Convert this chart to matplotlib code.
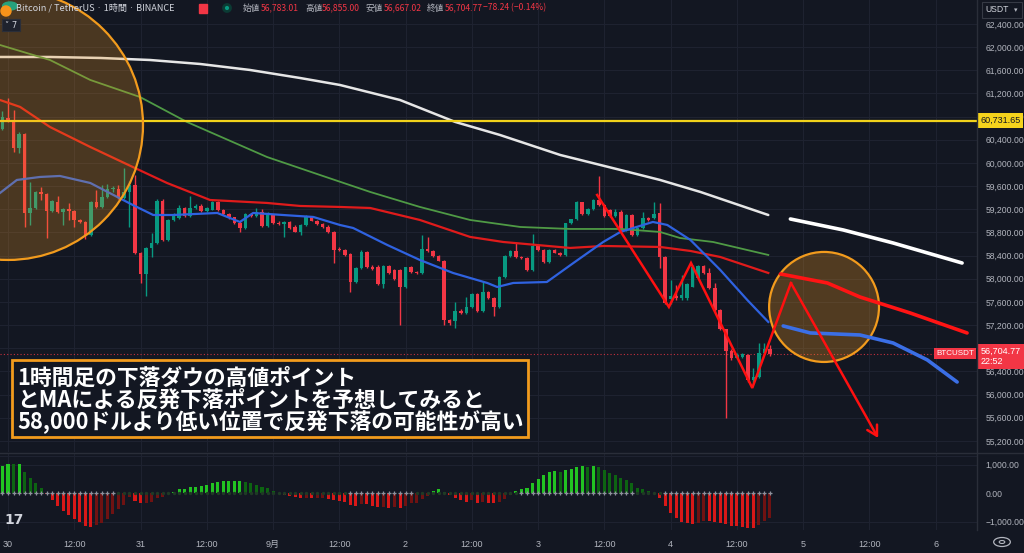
import numpy as np
import matplotlib
matplotlib.use("Agg")
import matplotlib.pyplot as plt
from matplotlib.patches import Ellipse, Rectangle, Circle

plt.rcParams['font.family'] = ['Noto Sans CJK JP', 'DejaVu Sans']
NARROW = ['Liberation Sans', 'Noto Sans CJK JP', 'DejaVu Sans']

# ---------------- data ----------------
# hours counted from 30 Aug 00:00 (1h candles)
hours = np.arange(-1, 139)
opens = [60581, 60771, 60742, 60253, 60500, 59130, 59217, 59493, 59464, 59176,
         59332, 59159, 59199, 59176, 59015, 58986, 58756, 59332, 59234, 59418,
         59545, 59545, 59389, 59504, 59614, 58439, 58077, 58526, 58612, 59349,
         58670, 59015, 59044, 59217, 59084, 59228, 59263, 59170, 59190, 59326,
         59188, 59119, 59061, 58960, 58871, 59119, 59084, 59159, 58911, 59101,
         58969, 58946, 58986, 58900, 58814, 58929, 59073, 59004, 58946, 58900,
         58802, 58520, 58497, 58428, 57950, 58181, 58469, 58210, 58210, 57910,
         58221, 58150, 58152, 57853, 58198, 58123, 58106, 58509, 58486, 58394,
         58313, 57288, 57277, 57450, 57403, 57507, 57732, 57450, 57766, 57663,
         57519, 58025, 58394, 58486, 58371, 58353, 58152, 58566, 58497, 58296,
         58497, 58451, 58411, 58958, 59027, 59321, 59113, 59205, 59361, 59275,
         59188, 59080, 59159, 58843, 59102, 58756, 58871, 59044, 59044, 59130,
         58370, 57645, 57703, 57663, 57662, 57864, 58019, 58221, 58106, 57835,
         57461, 57127, 56758, 56626, 56650, 56684, 56252, 56300, 56724, 56783.01]
highs = [60903, 61116, 60915, 60541, 60520, 59677, 59510, 59591, 59480, 59360,
         59430, 59230, 59303, 59190, 59030, 59000, 59350, 59533, 59620, 59637,
         59600, 59620, 59907, 59680, 59792, 58460, 58550, 58785, 59370, 59370,
         59030, 59130, 59274, 59240, 59430, 59290, 59290, 59240, 59340, 59350,
         59200, 59140, 59070, 58990, 59140, 59130, 59217, 59200, 59159, 59120,
         58990, 59000, 59000, 58920, 58940, 59101, 59090, 59020, 58960, 58920,
         58820, 58540, 58510, 58440, 58200, 58497, 58480, 58230, 58230, 58240,
         58240, 58170, 58170, 58210, 58220, 58140, 58756, 58728, 58500, 58410,
         58330, 57300, 57605, 57470, 57691, 57750, 57750, 57950, 57780, 57680,
         58040, 58410, 58500, 58641, 58390, 58370, 58774, 58580, 58510, 58510,
         58510, 58460, 58970, 59040, 59340, 59332, 59220, 59380, 59775, 59290,
         59200, 59200, 59180, 59120, 59120, 58890, 59159, 59060, 59321, 59303,
         58390, 57979, 57893, 58065, 57930, 58230, 58240, 58240, 58180, 57921,
         57480, 57140, 56780, 56720, 56720, 56700, 56460, 56885, 56885, 56855.00]
lows = [60570, 60713, 60195, 60167, 58900, 58929, 59200, 59360, 58698, 59150,
        59140, 58929, 59015, 58900, 58970, 58681, 58740, 59220, 59220, 59400,
        59500, 59370, 59370, 58900, 58420, 57933, 57703, 58382, 58600, 58650,
        58650, 59000, 59030, 59070, 59070, 59210, 59150, 59150, 59180, 59170,
        59100, 59040, 58940, 58814, 58860, 59070, 59070, 58900, 58900, 58950,
        58930, 58727, 58860, 58800, 58756, 58910, 58990, 58930, 58880, 58790,
        58267, 58480, 58400, 57778, 57930, 58170, 58180, 58150, 57890, 57835,
        58080, 57970, 57202, 57840, 58100, 58090, 58090, 58470, 58380, 58300,
        57202, 57200, 57144, 57390, 57390, 57490, 57430, 57430, 57650, 57357,
        57500, 58010, 58380, 58360, 58340, 58140, 58140, 58480, 58280, 58280,
        58440, 58400, 58400, 58940, 59010, 59100, 59100, 59190, 59260, 59070,
        59070, 59060, 58800, 58830, 58740, 58740, 58860, 59000, 59030, 58180,
        57560, 57560, 57640, 57640, 57640, 57850, 58010, 58090, 57820, 57440,
        57110, 55590, 56600, 56610, 56630, 56223, 56200, 56280, 56700, 56667.02]
closes = [60788, 60742, 60253, 60500, 59130, 59228, 59493, 59464, 59176, 59343,
          59159, 59199, 59176, 59015, 58986, 58756, 59332, 59234, 59418, 59545,
          59560, 59389, 59504, 59614, 58439, 58077, 58526, 58612, 59349, 58670,
          59015, 59084, 59217, 59084, 59228, 59263, 59170, 59217, 59326, 59188,
          59119, 59061, 58960, 58871, 59119, 59084, 59159, 58911, 59101, 58969,
          58946, 58986, 58871, 58814, 58929, 59073, 59004, 58946, 58900, 58802,
          58497, 58497, 58411, 57950, 58181, 58469, 58198, 58169, 57910, 58221,
          58094, 57991, 57853, 58198, 58123, 58106, 58509, 58486, 58394, 58313,
          57288, 57242, 57450, 57403, 57507, 57732, 57450, 57766, 57663, 57519,
          58025, 58394, 58486, 58371, 58353, 58152, 58566, 58497, 58296, 58497,
          58451, 58411, 58958, 59027, 59321, 59113, 59205, 59361, 59275, 59085,
          59085, 59159, 58814, 59102, 58756, 58871, 59044, 59020, 59113, 58370,
          57576, 57703, 57663, 57720, 57910, 58209, 58221, 58106, 57835, 57461,
          57127, 56758, 56626, 56684, 56701, 56252, 56300, 56724, 56783, 56704.77]

# momentum histogram (lower pane)
momentum = [948, 1018, 1010, 1018, 749, 515, 340, 164, -50, -246,
            -456, -632, -772, -913, -1006, -1158, -1182, -1123, -1041, -924,
            -737, -573, -421, -152, -269, -363, -339, -304, -164, -129,
            -47, 35, 129, 140, 199, 222, 246, 281, 339, 374,
            410, 421, 421, 433, 398, 339, 281, 199, 164, 59,
            -10, -59, -105, -152, -187, -180, -190, -185, -176, -211,
            -246, -293, -328, -421, -456, -386, -395, -456, -503, -480,
            -515, -503, -515, -456, -363, -339, -222, -105, 59, 140,
            23, -82, -164, -246, -304, -246, -339, -328, -363, -365,
            -328, -222, -58, 59, 140, 187, 363, 491, 632, 737,
            760, 737, 807, 842, 913, 936, 924, 948, 913, 807,
            714, 632, 538, 468, 339, 187, 129, 59, -5, -187,
            -445, -690, -889, -1006, -1065, -1088, -1041, -971, -975, -1006,
            -1065, -1088, -1158, -1160, -1182, -1217, -1240, -1123, -983, -866]
squeeze_ranges = [(-1, 19), (62, 73), (93, 113), (119, 138)]

# moving averages (hour, price)
ma200_h = [-1.45, 7.6, 16.7, 25.7, 34.8, 43.8, 52.9, 60.1, 71.0, 81.0, 89.1, 100.0, 110.9, 118.1, 125.4, 137.7]
ma200_p = [61830, 61830, 61813, 61778, 61709, 61606, 61467, 61347, 61087, 60708, 60483, 60138, 59879, 59706, 59499, 59101]
ma100_h = [-1.45, 7.6, 14.9, 23.9, 32.4, 46.9, 56.5, 65.6, 74.6, 83.7, 92.8, 101.8, 110.9, 118.1, 121.7, 127.7, 137.7]
ma100_p = [62037, 61778, 61433, 61139, 60708, 60103, 59792, 59499, 59240, 59015, 58894, 58860, 58860, 58808, 58704, 58635, 58411]
ma50_h = [-1.45, 2.2, 7.6, 14.9, 22.6, 28.8, 36.6, 46.9, 52.9, 60.1, 65.6, 74.6, 83.7, 89.7, 95.8, 101.8, 107.8, 118.1, 123.6, 129.0, 137.7]
ma50_p = [61087, 60967, 60621, 60276, 59930, 59654, 59360, 59309, 59257, 59240, 59222, 59015, 58722, 58635, 58583, 58532, 58566, 58549, 58480, 58376, 58100]
ma20_h = [-1.45, 1.6, 5.8, 9.4, 14.9, 19.8, 22.6, 26.3, 29.9, 37.9, 42.0, 44.4, 49.8, 55.3, 60.1, 62.5, 68.7, 74.6, 80.6, 86.8, 88.6, 91.5, 97.6, 102.4, 107.8, 110.9, 116.8, 119.4, 123.6, 129.0, 133.9, 137.7]
ma20_p = [59481, 59706, 59758, 59775, 59654, 59412, 59274, 59101, 59101, 59136, 58981, 59136, 59101, 59067, 58929, 58877, 58583, 58324, 58100, 57927, 57858, 57927, 57944, 58272, 58635, 58808, 58981, 58929, 58670, 58152, 57633, 57254]

# hand-drawn projections
proj_white_h = [141.7, 151.3, 160.3, 172.8]
proj_white_p = [59032, 58842, 58618, 58272]
proj_red_h = [139.9, 148.4, 154.3, 163.4, 173.7]
proj_red_p = [58083, 57927, 57685, 57409, 57064]
proj_blue_h = [140.4, 145.3, 154.3, 160.3, 166.5, 171.9]
proj_blue_p = [57185, 57064, 57029, 56891, 56598, 56217]
zigzag_h = [106.7, 119.7, 123.7, 134.8, 141.8]
zigzag_p = [59447, 57513, 58272, 56114, 57927]
arrow_end = (157.6, 55250)

resistance = 60731.65
last_price = 56704.77

price_ticks = list(range(55200, 62401, 400))
time_ticks = [0, 12, 24, 36, 48, 60, 72, 84, 96, 108, 120, 132, 144, 156, 168]
time_labels = ['30', '12:00', '31', '12:00', '9月', '12:00', '2', '12:00',
               '3', '12:00', '4', '12:00', '5', '12:00', '6']

# ---------------- style ----------------
BG = '#131722'
GRID = '#1e2230'
TXT = '#b2b5be'
UP = '#089981'
DN = '#f23645'
W, H = 1024, 553


def fx(px):
    return px / W


def fy(py):
    return 1 - py / H


fig = plt.figure(figsize=(W / 100, H / 100), dpi=100, facecolor=BG)
PR = 977
ax = fig.add_axes([0, fy(452), fx(PR), 452 / H])
axh = fig.add_axes([0, fy(530), fx(PR), (530 - 453) / H])
for a in (ax, axh):
    a.set_facecolor(BG)
    a.set_xlim(-1.45, 175.5)
    for s in a.spines.values():
        s.set_visible(False)
    a.set_xticks(time_ticks)
    a.grid(True, color=GRID, lw=0.8)
    a.set_axisbelow(True)

ax.set_ylim(55008, 62814)
ax.yaxis.tick_right()
ax.set_yticks(price_ticks)
ax.set_yticklabels([f"{v:,.2f}" for v in price_ticks])
ax.tick_params(axis='y', colors=TXT, labelsize=6.2, length=0, pad=6, labelfontfamily=NARROW)
ax.tick_params(axis='x', length=0, labelbottom=False)

axh.set_ylim(-1298, 1404)
axh.yaxis.tick_right()
axh.set_yticks([1000, 0, -1000])
axh.set_yticklabels(['1,000.00', '0.00', '\u22121,000.00'])
axh.tick_params(axis='y', colors=TXT, labelsize=6.2, length=0, pad=6, labelfontfamily=NARROW)
axh.set_xticklabels(time_labels)
axh.tick_params(axis='x', colors=TXT, labelsize=6.5, length=0, pad=7, labelfontfamily=NARROW)
axh.grid(False, axis='y')
for v in (1000, -1000):
    axh.axhline(v, color=GRID, lw=0.8, zorder=0)
axh.axhline(1404 * 0.93, color=GRID, lw=0.8, zorder=0)

# ---------------- candles ----------------
o, hi, lo, c = map(np.array, (opens, highs, lows, closes))
col = np.where(c >= o, UP, DN)
ax.vlines(hours, lo, hi, colors=col, lw=1.0, zorder=3)
ax.bar(hours, np.maximum(np.abs(c - o), 10), bottom=np.minimum(o, c), width=0.64,
       color=col, linewidth=0, zorder=4)

# moving averages
ax.plot(ma200_h, ma200_p, color='#e6e6e6', lw=1.8, zorder=5, solid_capstyle='round')
ax.plot(ma100_h, ma100_p, color='#4f9a45', lw=1.3, zorder=5)
ax.plot(ma50_h, ma50_p, color='#e01b1b', lw=1.6, zorder=5)
ax.plot(ma20_h, ma20_p, color='#2f62e0', lw=1.6, zorder=5)

# projections
ax.plot(proj_white_h, proj_white_p, color='#ffffff', lw=2.6, zorder=7, solid_capstyle='round')
ax.plot(proj_red_h, proj_red_p, color='#ff1414', lw=2.6, zorder=7, solid_capstyle='round')
ax.plot(proj_blue_h, proj_blue_p, color='#3b6fe6', lw=2.6, zorder=7, solid_capstyle='round')

# resistance line and last-price line
ax.axhline(resistance, color='#f2d21b', lw=1.6, zorder=5)
ax.axhline(last_price, color=DN, lw=0.8, ls=(0, (1, 2)), zorder=2, alpha=0.8)

# zigzag + arrow
ax.plot(zigzag_h, zigzag_p, color='#ff1010', lw=1.8, zorder=8, solid_joinstyle='miter')
ax.annotate('', xy=arrow_end, xytext=(zigzag_h[-1], zigzag_p[-1]),
            arrowprops=dict(arrowstyle='->,head_length=0.7,head_width=0.4',
                            color='#ff1010', lw=1.8, shrinkA=0, shrinkB=0), zorder=8)

# circles
ax.add_patch(Ellipse((0, 60656), 48.9, 4663, facecolor=(0.95, 0.6, 0.12, 0.25),
                     edgecolor='#f29b1d', lw=1.6, zorder=6))
ax.add_patch(Ellipse((147.8, 57513), 19.9, 1900, facecolor=(0.95, 0.6, 0.12, 0.28),
                     edgecolor='#f29b1d', lw=1.6, zorder=6))

# right-side price labels
ytr = ax.get_yaxis_transform()
ax.annotate(f"{resistance:,.2f}", xy=(1, resistance), xycoords=ytr, xytext=(2.5, 0),
            textcoords='offset points', ha='left', va='center', fontsize=6.5,
            family=NARROW, color='#131722', annotation_clip=False, zorder=20,
            bbox=dict(boxstyle='square,pad=0.3', fc='#f5d31c', ec='none'))
ax.annotate(f"{last_price:,.2f}\n22:52", xy=(1, last_price), xycoords=ytr, xytext=(2.5, 5),
            textcoords='offset points', ha='left', va='top', fontsize=6.5,
            family=NARROW, color='white', annotation_clip=False, linespacing=1.15, zorder=20,
            bbox=dict(boxstyle='square,pad=0.35', fc=DN, ec='none'))
ax.annotate("BTCUSDT", xy=(1, last_price), xycoords=ytr, xytext=(-2, 0),
            textcoords='offset points', ha='right', va='center', fontsize=5.8,
            family=NARROW, color='white', annotation_clip=False, zorder=20,
            bbox=dict(boxstyle='square,pad=0.25', fc=DN, ec='none'))

# ---------------- histogram ----------------
mom = np.array(momentum)
prev = np.concatenate([[mom[0]], mom[:-1]])
hcol = np.where(mom >= 0, np.where(mom >= prev, '#22c322', '#0d6412'),
                np.where(mom <= prev, '#d81818', '#6f1212'))
axh.bar(hours, mom, width=0.55, color=hcol, linewidth=0, zorder=3)
on = np.zeros(len(hours), bool)
for a_, b_ in squeeze_ranges:
    on |= (hours >= a_) & (hours <= b_)
axh.scatter(hours[on], np.zeros(on.sum()), marker='+', s=10, color='#8d919c', lw=0.9, zorder=4)
axh.scatter(hours[~on], np.zeros((~on).sum()), marker='o', s=2, color='#1f3a25', zorder=4)

# ---------------- frame / separators ----------------
fig.add_artist(plt.Line2D([0, 1], [fy(452.5), fy(452.5)], color='#2a2e39', lw=1))
fig.add_artist(plt.Line2D([fx(PR), fx(PR)], [fy(0), fy(530)], color='#2a2e39', lw=1))

# ---------------- annotation box ----------------
fig.add_artist(Rectangle((fx(12), fy(437)), fx(516), 77.5 / H, transform=fig.transFigure,
                         facecolor=BG, edgecolor='#f29b1d', lw=2, zorder=20))
lines = ['1時間足の下落ダウの高値ポイント',
         'とMAによる反発下落ポイントを予想してみると',
         '58,000ドルより低い位置で反発下落の可能性が高い']
for k, s in enumerate(lines):
    fig.text(fx(17), fy(378 + 22 * k), s, fontsize=15.7, weight='bold', color='white',
             ha='left', va='center', zorder=21,
             family=['Noto Sans CJK JP', 'DejaVu Sans'])

# ---------------- header ----------------
fig.add_artist(Circle((fx(10), fy(6)), 4 / H, transform=fig.transFigure, color='#26a17b', zorder=30))
fig.add_artist(Ellipse((fx(6), fy(11)), 10 / W, 10 / H, transform=fig.transFigure, color='#f7931a', zorder=31))
fig.text(fx(16), fy(8), 'Bitcoin / TetherUS · 1時間 · BINANCE', fontsize=6.6, color='#d1d4dc',
         ha='left', va='center', zorder=30)
fig.add_artist(Rectangle((fx(199), fy(13)), 8 / W, 9 / H, transform=fig.transFigure,
                         color=DN, zorder=30))
fig.add_artist(Ellipse((fx(227), fy(8)), 7 / W, 7 / H, transform=fig.transFigure,
                       facecolor='#089981', edgecolor='#0b3b34', lw=2, zorder=30))
hdr = [(243, '始値', TXT), (261, '56,783.01', DN), (305, '高値', TXT), (322, '56,855.00', DN),
       (366, '安値', TXT), (384, '56,667.02', DN), (427, '終値', TXT), (445, '56,704.77', DN),
       (483, '\u221278.24 (\u22120.14%)', DN)]
for xp, s, cc in hdr:
    fig.text(fx(xp), fy(8), s, fontsize=6.2, color=cc, ha='left', va='center', zorder=30)
fig.add_artist(Rectangle((fx(2), fy(31)), 18 / W, 12 / H, transform=fig.transFigure,
                         facecolor='#1e222d', edgecolor='#2a2e39', lw=0.8, zorder=30))
fig.text(fx(5), fy(25), '\u02c5 7', fontsize=6, color='#d1d4dc', ha='left', va='center',
         zorder=31, family='DejaVu Sans')
fig.add_artist(Rectangle((fx(982), fy(18)), 40 / W, 16 / H, transform=fig.transFigure,
                         facecolor=BG, edgecolor='#363a45', lw=0.8, zorder=30))
fig.text(fx(985), fy(10), 'USDT', fontsize=6.2, color='#d1d4dc', ha='left', va='center',
         zorder=31, family=NARROW)
fig.text(fx(1014), fy(10), '\u25be', fontsize=5, color=TXT, ha='left', va='center',
         zorder=31, family='DejaVu Sans')

# TradingView logo and settings icon
fig.text(fx(4), fy(520), '17', fontsize=10, weight='bold', color='#d1d4dc',
         ha='left', va='center', family='DejaVu Sans')
fig.add_artist(Circle((fx(1002), fy(542)), 4.5 / H, transform=fig.transFigure,
                      facecolor='none', edgecolor=TXT, lw=0.9))
fig.add_artist(Circle((fx(1002), fy(542)), 1.5 / H, transform=fig.transFigure,
                      facecolor='none', edgecolor=TXT, lw=0.8))

fig.savefig('out.png', dpi=100, facecolor=BG)
